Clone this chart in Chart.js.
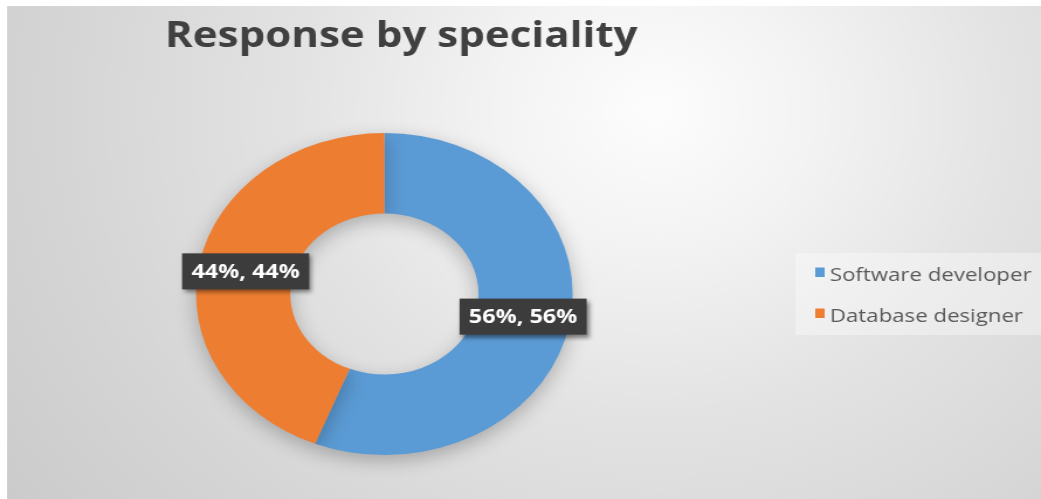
<!DOCTYPE html>
<html>
<head>
<meta charset="utf-8">
<script src="https://cdn.jsdelivr.net/npm/chart.js@4.4.1/dist/chart.umd.min.js"></script>
<style>
  html, body { margin: 0; padding: 0; background: #ffffff; }
  #c { display: block; width: 1041px; height: 499px; }
</style>
</head>
<body>
<canvas id="c" width="890" height="499" style="width:1041px;height:499px;"></canvas>
<script>
// ---- data ----
const titleText = 'Response by speciality';
const categories = ['Software developer', 'Database designer'];
const values = [56, 44];
const colors = ['#5B9BD5', '#ED7D31'];

const W = 890, H = 499;

const bgPlugin = {
  id: 'bg',
  beforeDraw(chart) {
    const ctx = chart.ctx;
    ctx.save();
    ctx.fillStyle = '#ffffff';
    ctx.fillRect(0, 0, W, H);
    const g = ctx.createRadialGradient(560, 110, 0, 560, 110, 680);
    g.addColorStop(0, '#fdfdfd');
    g.addColorStop(0.2, '#f3f3f3');
    g.addColorStop(0.45, '#e3e3e3');
    g.addColorStop(0.75, '#d5d5d5');
    g.addColorStop(1, '#cbcbcb');
    ctx.fillStyle = g;
    ctx.fillRect(6, 6, W - 6, H - 6);
    ctx.restore();
  }
};

const shadowPlugin = {
  id: 'donutShadow',
  beforeDatasetsDraw(chart) {
    const ctx = chart.ctx;
    ctx.save();
    ctx.shadowColor = 'rgba(0,0,0,0.25)';
    ctx.shadowBlur = 18;
    ctx.shadowOffsetX = 0;
    ctx.shadowOffsetY = 6;
  },
  afterDatasetsDraw(chart) {
    chart.ctx.restore();
  }
};

const decoPlugin = {
  id: 'deco',
  afterDraw(chart) {
    const ctx = chart.ctx;
    ctx.save();
    // title
    ctx.fillStyle = '#404040';
    ctx.font = 'bold 36px "Open Sans"';
    ctx.textBaseline = 'alphabetic';
    ctx.textAlign = 'left';
    ctx.fillText(titleText, 141, 47);

    // data labels
    const meta = chart.getDatasetMeta(0);
    const data = chart.data.datasets[0].data;
    const total = data.reduce((a, b) => a + b, 0);
    ctx.font = 'bold 20px "Open Sans"';
    meta.data.forEach((arc, i) => {
      const p = arc.tooltipPosition();
      const pct = Math.round(data[i] / total * 100);
      const txt = pct + '%, ' + pct + '%';
      const tw = ctx.measureText(txt).width;
      const bw = tw + 16, bh = 36;
      ctx.save();
      ctx.shadowColor = 'rgba(0,0,0,0.45)';
      ctx.shadowBlur = 4;
      ctx.shadowOffsetX = 2;
      ctx.shadowOffsetY = 3;
      ctx.fillStyle = '#3c3c3c';
      ctx.fillRect(p.x - bw / 2, p.y - bh / 2, bw, bh);
      ctx.restore();
      ctx.fillStyle = '#ffffff';
      ctx.textAlign = 'center';
      ctx.textBaseline = 'middle';
      ctx.fillText(txt, p.x, p.y + 1);
    });

    // legend
    ctx.fillStyle = 'rgba(255,255,255,0.35)';
    ctx.fillRect(680, 253, W - 680, 82);
    ctx.font = '19px "Open Sans"';
    ctx.textAlign = 'left';
    ctx.textBaseline = 'alphabetic';
    chart.data.labels.forEach((lab, i) => {
      const y = 280.5 + i * 41;
      ctx.fillStyle = chart.data.datasets[0].backgroundColor[i];
      ctx.fillRect(697, y - 13, 8, 9.5);
      ctx.fillStyle = '#595959';
      ctx.fillText(lab, 709.5, y);
    });
    ctx.restore();
  }
};

new Chart(document.getElementById('c'), {
  type: 'doughnut',
  data: {
    labels: categories,
    datasets: [{
      data: values,
      backgroundColor: colors,
      borderWidth: 0
    }]
  },
  options: {
    responsive: false,
    devicePixelRatio: 1,
    animation: false,
    cutout: '50%',
    layout: { padding: { left: 167.6, right: 400.4, top: 133, bottom: 44 } },
    plugins: {
      legend: { display: false },
      title: { display: false },
      tooltip: { enabled: false }
    }
  },
  plugins: [bgPlugin, shadowPlugin, decoPlugin]
});
</script>
</body>
</html>
